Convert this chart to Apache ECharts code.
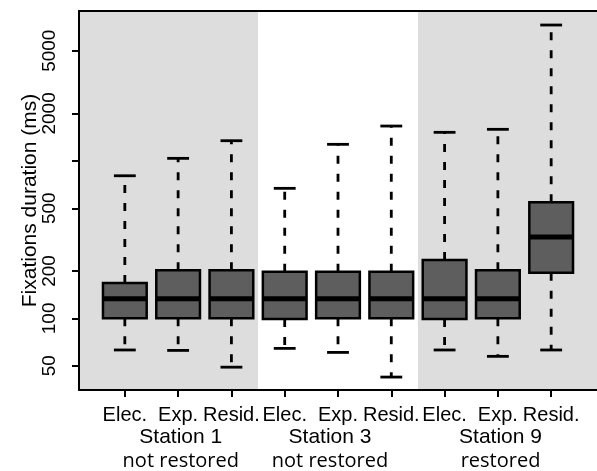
<!DOCTYPE html>
<html>
<head>
<meta charset="utf-8">
<script src="https://cdn.jsdelivr.net/npm/echarts@6/dist/echarts.min.js"></script>
<style>
  html, body { margin: 0; padding: 0; background: #fff; }
  #chart { width: 597px; height: 471px; }
</style>
</head>
<body>
<div id="chart"></div>
<script>
// categories and groups
var categories = ['Elec.', 'Exp.', 'Resid.', 'Elec.', 'Exp.', 'Resid.', 'Elec.', 'Exp.', 'Resid.'];
var stations = ['Station 1', 'Station 3', 'Station 9'];
var restoration = ['not restored', 'not restored', 'restored'];

// box statistics (ms)
var whiskerLow  = [63, 62.6, 49, 64.5, 60.8, 42.4, 63, 57.4, 63];
var quart1      = [100, 100, 100, 99, 100, 100, 99, 100, 195];
var medians     = [133, 133, 133, 133, 133, 133, 133, 133, 328];
var quart3      = [168, 202, 202, 198, 198, 198, 235, 202, 545];
var whiskerHigh = [804, 1037, 1342, 669, 1273, 1663, 1517, 1585, 7280];

// y axis ticks / labels
var yTicks  = [50, 100, 200, 500, 1000, 2000, 5000];
var yLabels = [50, 100, 200, 500, 2000, 5000];

var X_MIN = 0.14, X_MAX = 9.86;
var xTicks = categories.map(function (c, i) { return i + 1; });

var boxData = categories.map(function (c, i) {
  return [i + 1, whiskerLow[i], quart1[i], medians[i], quart3[i], whiskerHigh[i]];
});

var myChart = echarts.init(document.getElementById('chart'));

function renderBox(params, api) {
  var x = api.value(0);
  var lo = api.coord([x, api.value(1)]);
  var b1 = api.coord([x, api.value(2)]);
  var md = api.coord([x, api.value(3)]);
  var b3 = api.coord([x, api.value(4)]);
  var hi = api.coord([x, api.value(5)]);
  var left = api.coord([x - 0.41, api.value(3)])[0];
  var right = api.coord([x + 0.41, api.value(3)])[0];
  var w = right - left;
  var cx = md[0];
  var capHalf = w / 4;
  var dash = { stroke: '#000', lineWidth: 2.8, lineDash: [8, 10] };
  var solid = { stroke: '#000', lineWidth: 2.8 };
  return {
    type: 'group',
    children: [
      { type: 'line', shape: { x1: cx, y1: b1[1], x2: cx, y2: lo[1] }, style: dash },
      { type: 'line', shape: { x1: cx, y1: b3[1], x2: cx, y2: hi[1] }, style: dash },
      { type: 'line', shape: { x1: cx - capHalf, y1: lo[1], x2: cx + capHalf, y2: lo[1] }, style: solid },
      { type: 'line', shape: { x1: cx - capHalf, y1: hi[1], x2: cx + capHalf, y2: hi[1] }, style: solid },
      { type: 'rect', shape: { x: left, y: b3[1], width: w, height: b1[1] - b3[1] },
        style: { fill: '#5e5e5e', stroke: '#000', lineWidth: 2.5 } },
      { type: 'line', shape: { x1: left, y1: md[1], x2: right, y2: md[1] },
        style: { stroke: '#000', lineWidth: 5 } }
    ]
  };
}

// white band behind the middle station group
function renderBand(params, api) {
  var g = api.value(0);
  var cs = params.coordSys;
  var x1 = api.coord([g * 3 + 0.5, 100])[0];
  var x2 = api.coord([g * 3 + 3.5, 100])[0];
  return {
    type: 'rect',
    shape: { x: x1, y: cs.y, width: x2 - x1, height: cs.height },
    style: { fill: '#ffffff' }
  };
}

var option = {
  animation: false,
  grid: {
    left: 79, top: 11, height: 379, width: 527,
    show: true, backgroundColor: '#dddddd', borderWidth: 0
  },
  xAxis: [{
    type: 'value', min: X_MIN, max: X_MAX, z: 5,
    splitLine: { show: false },
    axisLine: { show: true, lineStyle: { color: '#000', width: 2 } },
    axisTick: { show: true, customValues: xTicks, length: 7, lineStyle: { color: '#000', width: 2 } },
    axisLabel: {
      customValues: xTicks, margin: 15, hideOverlap: false,
      color: '#000', fontSize: 20, fontFamily: 'Liberation Sans, Arial, sans-serif',
      formatter: function (v) { return categories[Math.round(v) - 1]; }
    }
  }, {
    type: 'value', min: X_MIN, max: X_MAX, position: 'bottom', z: 5,
    splitLine: { show: false },
    axisLine: { show: false },
    axisTick: { show: false },
    axisLabel: {
      customValues: [2.05, 4.85, 8.05], margin: 36, hideOverlap: false,
      formatter: function (v) {
        var g = Math.floor((v - 1) / 3);
        return '{s|' + stations[g] + '}\n{r|' + restoration[g] + '}';
      },
      rich: {
        s: { color: '#000', fontSize: 21, lineHeight: 23, fontFamily: 'Liberation Sans, Arial, sans-serif' },
        r: { color: '#000', fontSize: 20, lineHeight: 24, fontFamily: 'Open Sans, sans-serif' }
      }
    }
  }, {
    type: 'value', min: X_MIN, max: X_MAX, position: 'top', z: 5,
    splitLine: { show: false },
    axisLine: { show: true, lineStyle: { color: '#000', width: 2 } },
    axisTick: { show: false },
    axisLabel: { show: false }
  }],
  yAxis: {
    type: 'log', logBase: 10, min: 35.1, max: 8936, z: 5,
    name: 'Fixations duration (ms)', nameLocation: 'middle', nameGap: 38, nameRotate: 90,
    nameMoveOverlap: false,
    nameTextStyle: { color: '#000', fontSize: 21, fontFamily: 'Liberation Sans, Arial, sans-serif' },
    splitLine: { show: false },
    axisLine: { show: true, lineStyle: { color: '#000', width: 2 } },
    axisTick: { show: true, customValues: yTicks, length: 7, lineStyle: { color: '#000', width: 2 } },
    axisLabel: {
      customValues: yLabels, rotate: 90, margin: 20,
      color: '#000', fontSize: 19, fontFamily: 'Liberation Sans, Arial, sans-serif',
      formatter: function (v) { return String(Math.round(v)); }
    }
  },
  series: [{
    type: 'custom', name: 'band', z: 1, clip: true, silent: true,
    renderItem: renderBand,
    data: [[1]],
    encode: { x: 0 }
  }, {
    type: 'custom', name: 'boxes', z: 2,
    renderItem: renderBox,
    data: boxData,
    encode: { x: 0, y: [1, 2, 3, 4, 5] }
  }]
};

myChart.setOption(option);
</script>
</body>
</html>
